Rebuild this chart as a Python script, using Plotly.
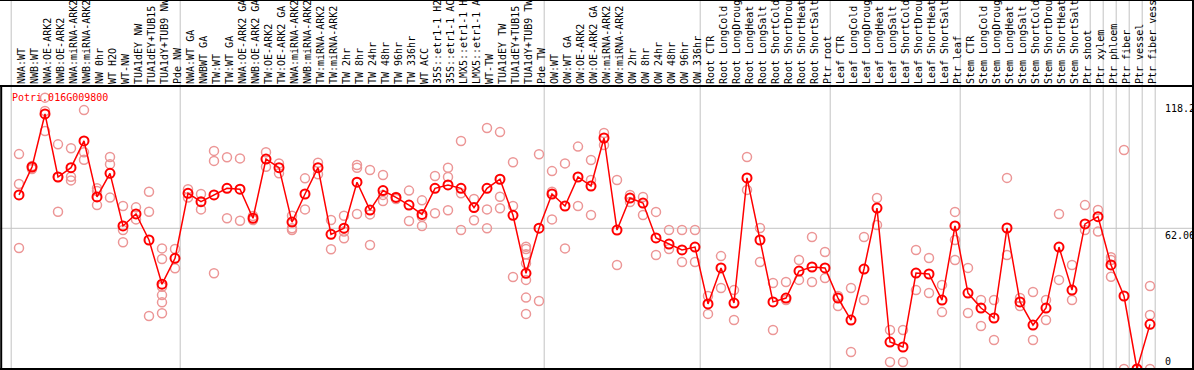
import plotly.graph_objects as go

gene = "Potri.016G009800"

labels = [
    "NWA:WT", "NWB:WT", "NWA:OE-ARK2", "NWB:OE-ARK2", "NWA:miRNA-ARK2", "NWB:miRNA-ARK2",
    "NW 0hr", "WT H2O", "WT-NW", "TUA1dEY NW", "TUA1dEY+TUB15 NW", "TUA1dY+TUB9 NW", "Pde NW",
    "NWA:WT GA", "NWBWT GA", "TW:WT", "TW:WT GA", "NWA:OE-ARK2 GA", "NWB:OE-ARK2 GA",
    "TW:OE-ARK2", "TW:OE-ARK2 GA", "NWA:miRNA-ARK2 GA", "NWB:miRNA-ARK2 GA", "TW:miRNA-ARK2",
    "TW:miRNA-ARK2 GA", "TW 2hr", "TW 8hr", "TW 24hr", "TW 48hr", "TW 96hr", "TW 336hr", "WT ACC",
    "35S::etr1-1 H2O", "35S::etr1-1 ACC", "LMX5::etr1-1 H2O", "LMX5::etr1-1 ACC", "WT-TW",
    "TUA1dEY TW", "TUA1dEY+TUB15 TW", "TUA1dY+TUB9 TW", "Pde TW",
    "OW:WT", "OW:WT GA", "OW:OE-ARK2", "OW:OE-ARK2 GA", "OW:miRNA-ARK2", "OW:miRNA-ARK2",
    "OW 2hr", "OW 8hr", "OW 24hr", "OW 48hr", "OW 96hr", "OW 336hr",
    "Root CTR", "Root LongCold", "Root LongDrought", "Root LongHeat", "Root LongSalt",
    "Root ShortCold", "Root ShortDrought", "Root ShortHeat", "Root ShortSalt", "Ptr root",
    "Leaf CTR", "Leaf LongCold", "Leaf LongDrought", "Leaf LongHeat", "Leaf LongSalt",
    "Leaf ShortCold", "Leaf ShortDrought", "Leaf ShortHeat", "Leaf ShortSalt", "Ptr leaf",
    "Stem CTR", "Stem LongCold", "Stem LongDrought", "Stem LongHeat", "Stem LongSalt",
    "Stem ShortCold", "Stem ShortDrought", "Stem ShortHeat", "Stem ShortSalt", "Ptr shoot",
    "Ptr xylem", "Ptr phloem", "Ptr fiber", "Ptr vessel", "Ptr fiber vessel",
]

means = [
    76.8, 89.1, 112.5, 84.7, 88.8, 100.6, 75.9, 86.3, 63.1, 68.4, 56.9, 37.4, 48.8,
    77.5, 73.8, 76.8, 79.7, 79.3, 66.5, 92.6, 88.8, 64.8, 77.2, 88.8, 59.4, 62.1, 82.4,
    70.1, 78.7, 75.7, 72.3, 68.2, 79.7, 81.2, 79.7, 71.2, 79.7, 83.7, 67.8, 42.2, 62.1,
    77.2, 71.9, 84.7, 80.7, 101.9, 61.3, 75.4, 73.2, 57.8, 55.1, 52.5, 53.8,
    28.7, 44.6, 29.1, 84.3, 56.9, 29.6, 31.3, 43.2, 45.0, 44.6,
    31.3, 21.6, 44.1, 71.0, 11.9, 9.7, 42.3, 41.9, 30.4, 63.1,
    33.5, 26.9, 22.5, 62.2, 29.6, 19.4, 26.9, 53.8, 34.8, 64.0,
    67.2, 45.9, 32.2, 0.0, 19.7,
]

replicates = [
    [94.8, 81.6, 53.4], [89.5, 88.2, 89.1], [119.7, 113.8, 105.0], [99.1, 69.4, 84.7],
    [97.4, 84.8, 83.2], [114.2, 95.6, 92.3], [79.7, 78.5, 72.3], [93.5, 90.3, 75.6],
    [71.9, 61.3, 55.9], [71.3, 66.0], [78.2, 69.4, 23.4],
    [53.2, 48.5, 36.3, 32.6, 29.4, 24.6], [52.9, 44.4],
    [79.3, 75.6], [77.2, 70.4], [96.2, 91.8, 42.2], [93.4, 66.5], [92.9, 65.4], [67.5, 65.7],
    [95.6, 89.2], [90.7, 86.3], [67.6, 62.1, 61.3], [84.1, 70.4], [91.0, 85.9], [65.7, 52.8],
    [67.6, 60.6, 57.7], [90.0, 88.8, 68.4], [87.8, 68.2, 54.7], [85.6, 76.8, 74.1],
    [75.9, 75.0], [78.7, 65.3], [74.4, 67.2, 63.1], [85.1, 68.7], [88.8, 84.7, 70.0],
    [100.6, 77.5, 61.3], [75.0, 65.6], [106.3, 70.4, 62.1], [104.5, 76.0, 70.9],
    [91.2, 71.9, 40.6], [53.9, 52.9, 50.6, 46.6, 39.3, 31.5, 24.3], [94.7, 30.0],
    [87.3, 78.2, 66.0], [90.7, 53.2], [98.1, 71.9], [92.2, 83.4, 67.9], [104.1, 98.8],
    [83.4, 45.9], [76.8, 73.7], [75.9, 67.9], [69.3, 50.3], [61.3, 52.9], [61.3, 47.2],
    [61.3, 47.2],
    [32.2, 24.3], [49.8, 35.7], [34.8, 21.6], [93.5, 79.0], [62.2, 47.2], [37.9, 17.2],
    [38.4, 30.4], [48.1, 39.3], [58.2, 38.4], [51.6, 40.1],
    [32.2, 27.8], [35.7, 7.5], [58.2, 30.4], [75.4, 63.5], [17.2, 3.1], [17.2, 3.1],
    [52.5, 34.8], [49.0, 33.5], [37.1, 25.1], [69.3, 56.9, 48.1],
    [44.6, 24.7], [30.4, 19.0], [30.4, 12.8], [84.3, 50.3], [31.3, 27.8], [34.0, 12.8],
    [30.4, 21.6], [68.4, 39.3], [45.9, 30.4], [72.3, 61.3],
    [70.1, 60.6], [49.3, 48.1, 40.7], [96.6, 0.0], [0.0, 0.0], [36.6, 23.8, 0.0],
]

group_ends = [0, 13, 41, 53, 63, 73, 83, 84, 85, 86, 87, 88]
axis_labels = ["118.2", "62.06", "0"]
axis_values = [118.2, 62.06, 0]

positions = list(range(1, len(labels) + 1))
rep_x, rep_y = [], []
for pos, reps in zip(positions, replicates):
    for v in reps:
        rep_x.append(pos)
        rep_y.append(v)

W, H = 1194, 370
top, bottom = 86, 1
plot_h = H - top - bottom
px_per_unit = 2.267
ymax = plot_h / px_per_unit
mono = "DejaVu Sans Mono"

fig = go.Figure()
fig.add_trace(go.Scatter(
    x=rep_x, y=rep_y, mode="markers",
    marker=dict(symbol="circle-open", size=9, color="rgb(236,150,150)",
                line=dict(width=1.5, color="rgb(236,150,150)")),
    hoverinfo="skip", showlegend=False,
))
fig.add_trace(go.Scatter(
    x=positions, y=means, mode="lines+markers",
    line=dict(color="#ff0000", width=1.5),
    marker=dict(symbol="circle-open", size=9, color="#ff0000",
                line=dict(width=2, color="#ff0000")),
    showlegend=False,
))

shapes = []
ytop_paper = 1 + top / plot_h
ybot_paper = -bottom / plot_h
for g in group_ends:
    shapes.append(dict(type="line", xref="x", yref="paper", x0=g + 0.4, x1=g + 0.4,
                       y0=ybot_paper, y1=ytop_paper,
                       line=dict(color="rgb(195,195,195)", width=1), layer="below"))
shapes.append(dict(type="line", xref="paper", yref="y", x0=0, x1=1, y0=62.06, y1=62.06,
                   line=dict(color="rgb(195,195,195)", width=1), layer="below"))
# borders
shapes.append(dict(type="line", xref="paper", yref="paper", x0=0, x1=1, y0=ytop_paper, y1=ytop_paper,
                   line=dict(color="black", width=2)))
shapes.append(dict(type="line", xref="paper", yref="paper", x0=0, x1=1, y0=1, y1=1,
                   line=dict(color="black", width=2)))
shapes.append(dict(type="line", xref="paper", yref="paper", x0=0, x1=1, y0=0, y1=0,
                   line=dict(color="black", width=2)))
shapes.append(dict(type="line", xref="paper", yref="paper", x0=1.2 / W, x1=1.2 / W, y0=0, y1=1,
                   line=dict(color="black", width=2)))
shapes.append(dict(type="line", xref="paper", yref="paper", x0=1 - 1 / W, x1=1 - 1 / W,
                   y0=ybot_paper, y1=ytop_paper, line=dict(color="black", width=2)))

annotations = [dict(text=gene, xref="paper", yref="paper", x=10 / W, y=(H - bottom - 97) / plot_h,
                    xanchor="left", yanchor="middle", showarrow=False,
                    font=dict(family=mono, size=10, color="#ff0000"))]
for txt, v in zip(axis_labels, axis_values):
    anchor = "bottom" if v == 0 else "top"
    annotations.append(dict(text=txt, xref="paper", yref="y", x=1163 / W, y=v,
                            xanchor="left", yanchor=anchor, showarrow=False,
                            font=dict(family=mono, size=10, color="black")))

x0 = -6 / 13
x1 = (W - 6) / 13
fig.update_layout(
    width=W, height=H, margin=dict(l=0, r=0, t=top, b=bottom),
    paper_bgcolor="white", plot_bgcolor="white",
    xaxis=dict(range=[x0, x1], side="top", tickmode="array", tickvals=positions,
               ticktext=labels, tickangle=-90, ticks="", showgrid=False, zeroline=False,
               showline=False, automargin=False, ticklabelshift=3, ticklabelstandoff=1,
               tickfont=dict(family=mono, size=10, color="black")),
    yaxis=dict(range=[0, ymax], showticklabels=False, showgrid=False, zeroline=False,
               showline=False),
    shapes=shapes, annotations=annotations,
)
fig.write_html("out.html", config={"displayModeBar": False, "staticPlot": True},
               post_script="document.body.style.margin='0';document.body.style.overflow='hidden';")
